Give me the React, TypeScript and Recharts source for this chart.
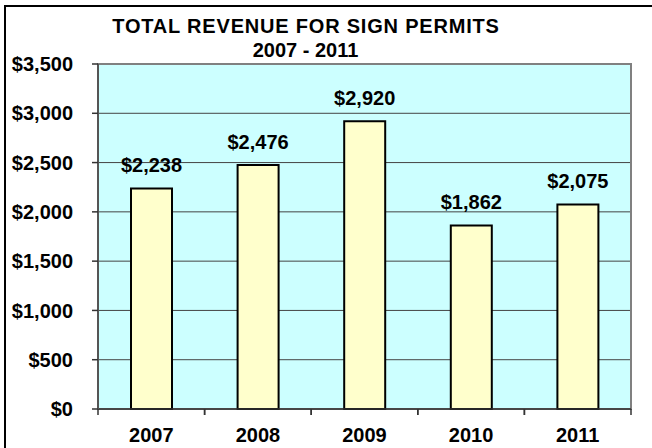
import React from 'react';
import { BarChart, Bar, XAxis, YAxis, CartesianGrid, LabelList, ReferenceArea } from 'recharts';

const years = ['2007', '2008', '2009', '2010', '2011'];
const revenue = [2238, 2476, 2920, 1862, 2075];
const yTicks = [0, 500, 1000, 1500, 2000, 2500, 3000, 3500];
const titleLines = ['TOTAL REVENUE FOR SIGN PERMITS', '2007 - 2011'];

const data = years.map((y, i) => ({ year: y, value: revenue[i] }));

const FONT = 'Arial, "Liberation Sans", sans-serif';
const money = (v: number) => '$' + Number(v).toLocaleString('en-US');

const XTick = (props: any) => {
  const { x, y, payload } = props;
  const off = payload.offset || 0;
  const axisY = y - 6;
  return (
    <g>
      <line x1={x - off} x2={x - off} y1={axisY} y2={axisY + 6} stroke="#333" strokeWidth={1.5} />
      <line x1={x + off} x2={x + off} y1={axisY} y2={axisY + 6} stroke="#333" strokeWidth={1.5} />
      <text x={x} y={axisY + 33} textAnchor="middle" fontFamily={FONT} fontWeight="bold" fontSize={20} fill="#000">
        {payload.value}
      </text>
    </g>
  );
};

export default function App() {
  return (
    <div style={{ position: 'fixed', left: 0, top: 0, width: 652, height: 448, overflow: 'hidden', background: '#fff' }}>
      <div style={{ position: 'absolute', left: 4, top: 5, width: 700, height: 500, border: '2px solid #000', boxSizing: 'border-box' }} />
      <svg style={{ position: 'absolute', left: 0, top: 0 }} width={652} height={448}>
        {titleLines.map((t, i) => (
          <text
            key={i}
            x={i === 0 ? 306 : 305.5}
            y={33 + i * 24}
            textAnchor="middle"
            fontFamily={FONT}
            fontWeight="bold"
            fontSize={20}
            letterSpacing={i === 0 ? 0.8 : 0}
            fill="#000"
          >
            {t}
          </text>
        ))}
      </svg>
      <div style={{ position: 'absolute', left: 0, top: 0 }}>
        <BarChart width={652} height={448} data={data} margin={{ top: 64, right: 21, bottom: 0, left: 0 }}>
          <CartesianGrid vertical={false} fill="#CCFFFF" stroke="#444" strokeWidth={1} />
          <ReferenceArea y1={0} y2={3500} fill="none" stroke="#808080" strokeWidth={2} ifOverflow="visible" />
          <XAxis
            dataKey="year"
            height={39}
            tickLine={false}
            tickSize={6}
            tickMargin={0}
            axisLine={{ stroke: '#333', strokeWidth: 1.5 }}
            tick={<XTick />}
            interval={0}
          />
          <YAxis
            width={98}
            domain={[0, 3500]}
            ticks={yTicks}
            interval={0}
            tickFormatter={money}
            tickSize={6}
            tickMargin={19}
            tickLine={{ stroke: '#333', strokeWidth: 1.5 }}
            axisLine={{ stroke: '#555', strokeWidth: 2 }}
            tick={{ fontFamily: FONT, fontWeight: 'bold', fontSize: 20, fill: '#000' }}
          />
          <Bar dataKey="value" fill="#FFFFCC" stroke="#000" strokeWidth={2} barSize={41} isAnimationActive={false}>
            <LabelList
              dataKey="value"
              position="top"
              offset={16}
              formatter={money}
              style={{ fontFamily: FONT, fontWeight: 'bold', fontSize: 20, fill: '#000' }}
            />
          </Bar>
        </BarChart>
      </div>
    </div>
  );
}
